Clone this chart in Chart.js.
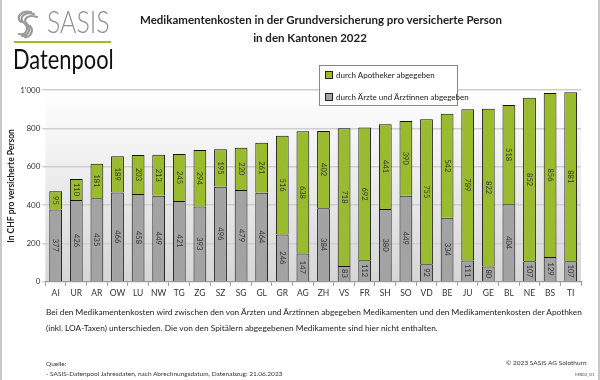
<!DOCTYPE html>
<html lang="de">
<head>
<meta charset="UTF-8">
<title>Medikamentenkosten pro versicherte Person 2022</title>
<script src="https://cdn.jsdelivr.net/npm/chart.js@4.4.0/dist/chart.umd.min.js"></script>
<style>
  body { margin: 0; background: #fff; }
  #wrap { position: relative; width: 600px; height: 380px; overflow: hidden; font-family: Lato, "Open Sans", sans-serif; color: #222; }
  #wrap .frame { position: absolute; left: 0; top: 0; width: 596px; height: 380px; border-left: 2px solid #c8c8c8; border-right: 2px solid #c8c8c8; pointer-events: none; }
  canvas { position: absolute; left: 0; top: 0; }
  .abs { position: absolute; white-space: nowrap; }
  #title { left: 140px; width: 340px; top: 11px; text-align: center; font-weight: bold; font-size: 11.5px; line-height: 18px; }
  #sasis { left: 47px; top: 1px; font-size: 32px; color: #8f8f8f; font-weight: 300; transform: scaleX(0.78); transform-origin: left top; }
  #greenline { left: 14px; top: 41px; width: 97px; height: 2px; background: #9bbb2f; }
  #datenpool { left: 13px; top: 43px; font-size: 26px; color: #111; transform: scaleX(0.84); transform-origin: left top; }
  #legend { left: 319px; top: 65px; width: 137px; height: 39px; border: 1px solid #888; background: #fff; font-size: 8px; }
  #legend div { position: absolute; left: 5px; }
  #legend span { display: inline-block; width: 6px; height: 6px; border: 1px solid #222; margin-right: 3px; vertical-align: -1px; }
  #note { left: 46px; top: 304px; font-size: 8.3px; line-height: 16px; }
  #quelle { left: 46px; top: 359px; font-size: 6.5px; line-height: 10px; color: #333; }
  #copy { left: 506px; top: 359px; font-size: 6.5px; color: #333; }
  #code { left: 575px; top: 372px; font-size: 4.5px; color: #555; }
</style>
</head>
<body>
<div id="wrap">
  <canvas id="chart" width="600" height="380"></canvas>
  <svg class="abs" style="left:14px;top:10px" width="28" height="28" viewBox="0 0 28 28">
    <g fill="none" stroke="#9a9a9a" stroke-width="2.2" stroke-linecap="round">
      <path d="M20 4 C10 1 4 8 10 13 C16 18 12 26 5 24"/>
      <path d="M23 7 C14 4 8 9 13 14 C18 19 14 26 8 26"/>
      <path d="M17 2 C8 0 1 7 7 12"/>
      <path d="M16 16 C20 20 17 27 11 27"/>
    </g>
  </svg>
  <div class="abs" id="sasis">SASIS</div>
  <div class="abs" id="greenline"></div>
  <div class="abs" id="datenpool">Datenpool</div>
  <div class="abs" id="title">Medikamentenkosten in der Grundversicherung pro versicherte Person<br>in den Kantonen 2022</div>
  <div class="abs" id="legend">
    <div style="top:4px"><span style="background:#9bbb2f"></span>durch Apotheker abgegeben</div>
    <div style="top:26px"><span style="background:#a3a3a3"></span>durch Ärzte und Ärztinnen abgegeben</div>
  </div>
  <div class="abs" id="note">Bei den Medikamentenkosten wird zwischen den von Ärzten und Ärztinnen abgegeben Medikamenten und den Medikamentenkosten der Apothken<br>(inkl. LOA-Taxen) unterschieden. Die von den Spitälern abgegebenen Medikamente sind hier nicht enthalten.</div>
  <div class="abs" id="quelle">Quelle:<br>- SASIS-Datenpool Jahresdaten, nach Abrechnungsdatum, Datenabzug: 21.06.2023</div>
  <div class="abs" id="copy">© 2023 SASIS AG Solothurn</div>
  <div class="abs" id="code">MB02_01</div>
  <div class="frame"></div>
</div>
<script>
// Kantone und Werte (CHF pro versicherte Person)
const kantone = ['AI','UR','AR','OW','LU','NW','TG','ZG','SZ','SG','GL','GR','AG','ZH','VS','FR','SH','SO','VD','BE','JU','GE','BL','NE','BS','TI'];
const aerzte = [377,426,435,466,458,449,421,393,496,479,464,246,147,384,83,112,380,449,92,334,111,80,404,107,129,107];
const apotheker = [95,110,181,189,203,213,245,294,195,220,261,516,638,402,718,692,441,390,755,542,789,822,518,852,856,881];
const yTicks = [0,200,400,600,800,1000];

// Hintergrund der Zeichenfläche (Verlauf weiss -> grau)
const plotBg = {
  id: 'plotBg',
  beforeDraw(chart) {
    const { ctx, chartArea: a } = chart;
    const g = ctx.createLinearGradient(0, a.top, 0, a.bottom);
    g.addColorStop(0, '#ffffff');
    g.addColorStop(1, '#d6d6d6');
    ctx.save();
    ctx.fillStyle = g;
    ctx.fillRect(a.left, a.top, a.right - a.left, a.bottom - a.top);
    ctx.restore();
  }
};

// Werte senkrecht in die Balken schreiben
const barLabels = {
  id: 'barLabels',
  afterDatasetsDraw(chart) {
    const ctx = chart.ctx;
    ctx.save();
    ctx.font = '7.5px Lato, sans-serif';
    ctx.fillStyle = '#333';
    ctx.textAlign = 'center';
    ctx.textBaseline = 'middle';
    chart.data.datasets.forEach((ds, i) => {
      chart.getDatasetMeta(i).data.forEach((bar, j) => {
        const mid = (bar.y + bar.base) / 2;
        ctx.save();
        ctx.translate(bar.x, mid);
        ctx.rotate(Math.PI / 2);
        ctx.fillText(String(ds.data[j]), 0, 0);
        ctx.restore();
      });
    });
    ctx.restore();
  }
};

new Chart(document.getElementById('chart'), {
  type: 'bar',
  data: {
    labels: kantone,
    datasets: [
      { label: 'durch Ärzte und Ärztinnen abgegeben', data: aerzte, backgroundColor: '#a3a3a3', borderColor: '#111', borderWidth: 1, barPercentage: 0.62, categoryPercentage: 1 },
      { label: 'durch Apotheker abgegeben', data: apotheker, backgroundColor: '#9bbb2f', borderColor: '#111', borderWidth: 1, barPercentage: 0.62, categoryPercentage: 1 }
    ]
  },
  options: {
    responsive: false,
    animation: false,
    layout: { padding: { top: 90, left: 0, right: 19, bottom: 80 } },
    plugins: { legend: { display: false }, tooltip: { enabled: false } },
    scales: {
      x: {
        stacked: true,
        grid: { display: true, drawOnChartArea: false, color: '#999', tickLength: 4 },
        border: { color: '#999' },
        ticks: { color: '#333', font: { size: 8.5, family: 'Lato' }, padding: 2, maxRotation: 0, autoSkip: false }
      },
      y: {
        stacked: true,
        min: 0, max: 1000,
        afterBuildTicks(axis) { axis.ticks = yTicks.map(v => ({ value: v })); },
        grid: { color: '#cfcfcf', lineWidth: 1.5, tickLength: 3 },
        border: { display: false },
        ticks: { color: '#333', font: { size: 8, family: 'Lato' }, padding: 2,
          callback: v => v >= 1000 ? Math.floor(v / 1000) + "'" + String(v % 1000).padStart(3, '0') : String(v) },
        title: { display: true, text: 'In CHF pro versicherte Person', color: '#222', font: { size: 8.5, weight: 'bold', family: 'Lato' }, padding: { top: 6, bottom: 2 } }
      }
    }
  },
  plugins: [plotBg, barLabels]
});
</script>
</body>
</html>
